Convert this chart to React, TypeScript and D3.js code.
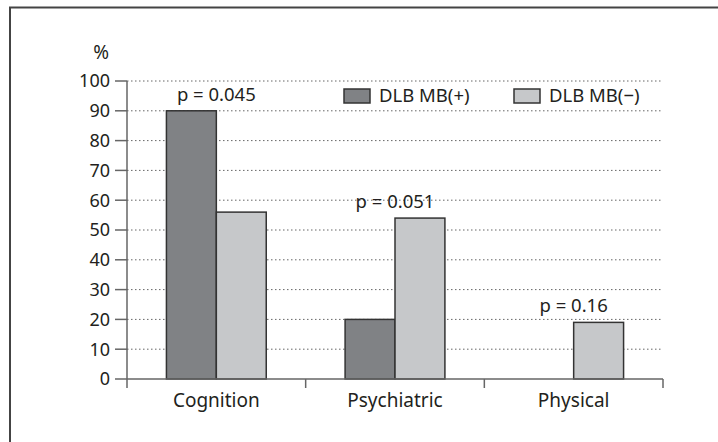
import React from 'react';
import { scaleLinear, scaleBand } from 'd3';

const categories = ['Cognition', 'Psychiatric', 'Physical'];
const seriesNames = ['DLB MB(+)', 'DLB MB(\u2212)'];
const mbPlus = [90, 20, 0];
const mbMinus = [56, 54, 19];
const pLabels = ['p = 0.045', 'p = 0.051', 'p = 0.16'];
const yTicks = [0, 10, 20, 30, 40, 50, 60, 70, 80, 90, 100];

const width = 718;
const height = 442;
const margin = { top: 81, bottom: 63, left: 127, right: 55 };
const colors = ['#808285', '#c6c8ca'];
const font = '"Noto Sans", sans-serif';
const textColor = '#231f20';

const App = () => {
  const yScale = scaleLinear().domain([0, 100]).range([height - margin.bottom, margin.top]);
  const xScale = scaleBand().domain(categories).range([margin.left, width - margin.right]);
  const inner = scaleBand().domain(seriesNames).range([0, xScale.bandwidth()]).paddingOuter(0.79);
  const values = [mbPlus, mbMinus];
  const x0 = margin.left;
  const x1 = width - margin.right;
  const base = yScale(0);

  return (
    <svg width={width} height={height} style={{ position: 'absolute', left: 0, top: 0, background: '#fff' }}>
      <rect x={10} y={7.5} width={800} height={600} fill='none' stroke='#444' strokeWidth={2} />

      {/* gridlines */}
      {yTicks.filter((t) => t > 0).map((t) => (
        <line key={t} x1={x0} x2={x1} y1={yScale(t)} y2={yScale(t)}
          stroke='#666' strokeWidth={1} strokeDasharray='1.5,2.5' />
      ))}

      {/* bars */}
      {categories.map((c, i) => (
        <g key={c} transform={`translate(${xScale(c)},0)`}>
          {seriesNames.map((s, j) => values[j][i] > 0 && (
            <rect key={s} x={inner(s)} y={yScale(values[j][i])} width={inner.bandwidth()}
              height={base - yScale(values[j][i])} fill={colors[j]} stroke='#333' strokeWidth={1.5} />
          ))}
          <text x={xScale.bandwidth() / 2} y={yScale(Math.max(mbPlus[i], mbMinus[i])) - 10}
            textAnchor='middle' fontFamily={font} fontSize={18.5} fill={textColor}>{pLabels[i]}</text>
          <text x={xScale.bandwidth() / 2} y={base + 28}
            textAnchor='middle' fontFamily={font} fontSize={19} fill={textColor}>{c}</text>
        </g>
      ))}

      {/* y axis */}
      <line x1={x0} x2={x0} y1={yScale(100)} y2={base + 9} stroke='#666' strokeWidth={1.5} />
      {yTicks.map((t) => (
        <g key={t} transform={`translate(0,${yScale(t)})`}>
          <line x1={x0 - 12} x2={x0} stroke='#666' strokeWidth={1.5} />
          <text x={x0 - 17} dy='0.36em' textAnchor='end' fontFamily={font} fontSize={18} fill={textColor}>{t}</text>
        </g>
      ))}
      <text x={109} y={59} textAnchor='end' fontFamily={font} fontSize={19} fill={textColor}>%</text>

      {/* x axis */}
      <line x1={x0} x2={x1} y1={base} y2={base} stroke='#666' strokeWidth={1.5} />
      {categories.map((c) => (
        <line key={c} x1={xScale(c)! + xScale.bandwidth()} x2={xScale(c)! + xScale.bandwidth()}
          y1={base} y2={base + 9} stroke='#666' strokeWidth={1.5} />
      ))}

      {/* legend */}
      {seriesNames.map((s, j) => (
        <g key={s} transform={`translate(${344 + j * 170},89)`}>
          <rect width={26} height={14} fill={colors[j]} stroke='#333' strokeWidth={1.5} />
          <text x={35} y={13} fontFamily={font} fontSize={18.5} fill={textColor}>{s}</text>
        </g>
      ))}
    </svg>
  );
};

export default App;
